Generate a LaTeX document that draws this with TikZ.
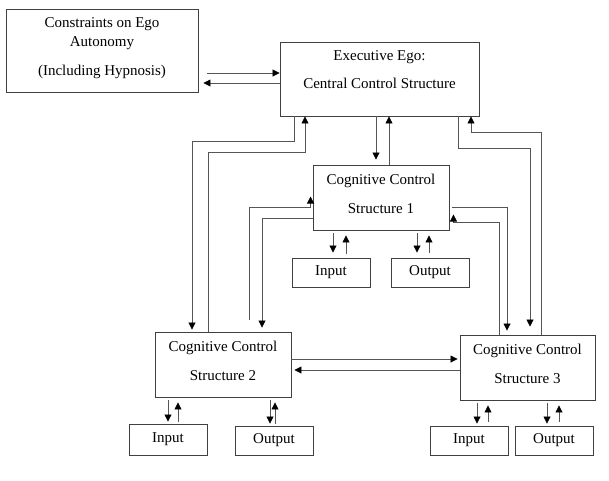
\documentclass[tikz,border=0pt]{standalone}
\usepackage{fontspec}
\setmainfont{Liberation Serif}
\usetikzlibrary{arrows.meta,calc}
\definecolor{ln}{HTML}{555555}
\definecolor{bx}{HTML}{404040}
\begin{document}
\begin{tikzpicture}[x=1pt,y=-1pt,
  box/.style={draw=bx,line width=0.9pt,inner sep=0pt,font=\fontsize{15}{18}\selectfont},
  lbl/.style={align=center,inner sep=0pt,font=\fontsize{15}{18}\selectfont},
  arr/.style={draw=ln,line width=0.8pt,-{Triangle[length=7pt,width=7pt,color=black]}}]
\useasboundingbox[fill=white] (0,0) rectangle (609,480);
% boxes
\node[box,minimum width=192pt,minimum height=83pt] (cons) at (102,50.5) {};
\node[lbl] (conslbl) at (102,48) {Constraints on Ego\\[1pt]Autonomy\\[11pt](Including Hypnosis)};
\node[box,minimum width=199pt,minimum height=74pt] (exec) at (379.5,79) {};
\node[lbl] (execlbl) at (379.5,70) {Executive Ego:\\[10pt]Central Control Structure};
\node[box,minimum width=136pt,minimum height=65pt] (ccs1) at (381,197.5) {};
\node[lbl] (ccs1lbl) at (381,193.5) {Cognitive Control\\[11pt]Structure 1};
\node[box,minimum width=136pt,minimum height=65pt] (ccs2) at (223,364.5) {};
\node[lbl] (ccs2lbl) at (223,360.5) {Cognitive Control\\[11pt]Structure 2};
\node[box,minimum width=135pt,minimum height=65pt] (ccs3) at (527.5,367.5) {};
\node[lbl] (ccs3lbl) at (527.5,363.5) {Cognitive Control\\[11pt]Structure 3};
\node[box,minimum width=78pt,minimum height=29pt] (in1) at (331,272.5) {Input};
\node[box,minimum width=78pt,minimum height=29pt] (out1) at (430,272.5) {Output};
\node[box,minimum width=78pt,minimum height=31pt] (in2) at (168,439.5) {Input};
\node[box,minimum width=78pt,minimum height=29pt] (out2) at (274,440.5) {Output};
\node[box,minimum width=78pt,minimum height=29pt] (in3) at (469,440.5) {Input};
\node[box,minimum width=78pt,minimum height=29pt] (out3) at (554,440.5) {Output};
% constraints <-> exec
\draw[arr] ($(cons.east)+(9,22.5)$) -- ($(exec.west)+(0,-6)$);
\draw[arr] ($(exec.west)+(0,4)$) -- ($(cons.east)+(5,32.5)$);
% exec <-> ccs1
\draw[arr] ($(exec.south)+(-3.5,0)$) -- ($(ccs1.north)+(-5,-5)$);
\draw[arr] ($(ccs1.north)+(8,0)$) -- ($(exec.south)+(9.5,0)$);
% exec <-> ccs2
\draw[arr] ($(exec.south)+(-85.5,0)$) -- ++(0,25) -| ($(ccs2.north)+(-31,-2)$);
\draw[arr] ($(ccs2.north)+(-15,0)$) -- ++(0,-179) -| ($(exec.south)+(-74.5,0)$);
% ccs1 <-> ccs2
\draw[arr] ($(ccs2.north)+(26,-12)$) |- ($(ccs1.west)+(-2,9.5)$) -- ($(ccs1.west)+(-2,-1)$);
\draw[arr] ($(ccs1.west)+(0,20.5)$) -| ($(ccs2.north)+(39,-4)$);
% exec <-> ccs3
\draw[arr] ($(exec.south)+(78.5,0)$) -- ++(0,32) -| ($(ccs3.north)+(2.5,-8)$);
\draw[arr] ($(ccs3.north)+(13.5,0)$) -- ++(0,-202) -| ($(exec.south)+(91.5,0)$);
% ccs1 <-> ccs3
\draw[arr] ($(ccs1.east)+(3,9.5)$) -| ($(ccs3.north)+(-20.5,-4)$);
\draw[arr] ($(ccs3.north)+(-28.5,0)$) |- ($(ccs1.east)+(4,24.5)$) -- ($(ccs1.east)+(4,17)$);
% ccs2 <-> ccs3
\draw[arr] ($(ccs2.east)+(0,-5.5)$) -- ($(ccs3.west)+(-2,-8.5)$);
\draw[arr] ($(ccs3.west)+(0,2.5)$) -- ($(ccs2.east)+(3,5.5)$);
% ccs1 io
\draw[arr] ($(ccs1.south)+(-48,3)$) -- ($(in1.north)+(2,-5)$);
\draw[arr] ($(in1.north)+(15,-4)$) -- ($(ccs1.south)+(-35,5)$);
\draw[arr] ($(ccs1.south)+(36,3)$) -- ($(out1.north)+(-13,-5)$);
\draw[arr] ($(out1.north)+(-1,-5)$) -- ($(ccs1.south)+(48,5)$);
% ccs2 io
\draw[arr] ($(ccs2.south)+(-55,3)$) -- ($(in2.north)+(0,-2)$);
\draw[arr] ($(in2.north)+(10,-2)$) -- ($(ccs2.south)+(-45,5)$);
\draw[arr] ($(ccs2.south)+(47,3)$) -- ($(out2.north)+(-4,-2)$);
\draw[arr] ($(out2.north)+(1,-2)$) -- ($(ccs2.south)+(52,5)$);
% ccs3 io
\draw[arr] ($(ccs3.south)+(-50.5,3)$) -- ($(in3.north)+(8,-2)$);
\draw[arr] ($(in3.north)+(19,-4)$) -- ($(ccs3.south)+(-39.5,5)$);
\draw[arr] ($(ccs3.south)+(19.5,3)$) -- ($(out3.north)+(-7,-2)$);
\draw[arr] ($(out3.north)+(5,-4)$) -- ($(ccs3.south)+(31.5,5)$);
\end{tikzpicture}
\end{document}
